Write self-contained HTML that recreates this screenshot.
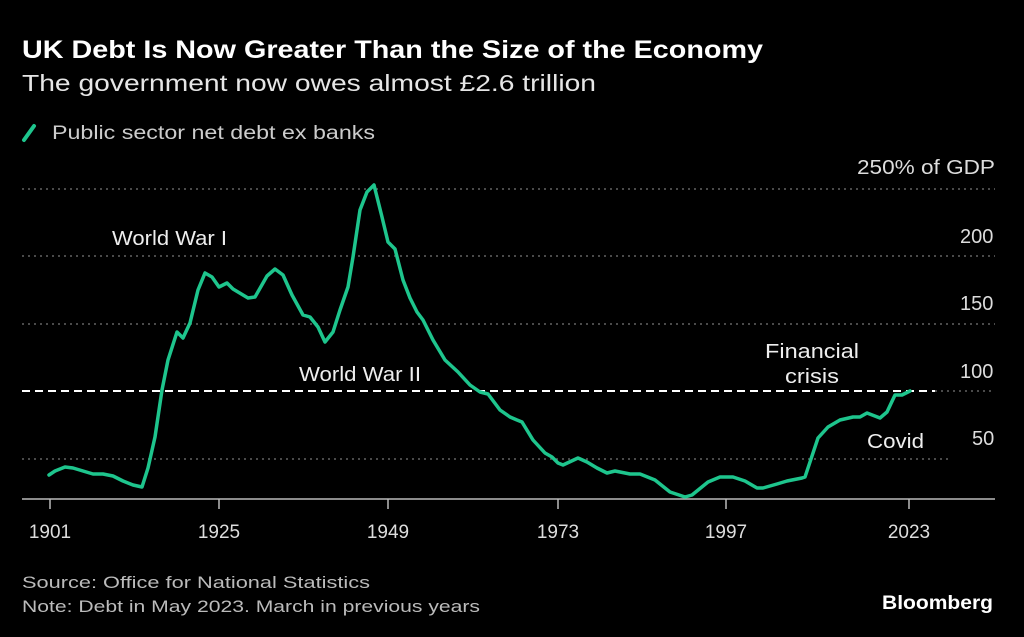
<!DOCTYPE html>
<html><head><meta charset="utf-8"><style>
html,body{margin:0;padding:0;background:#000;}
svg{display:block;font-family:"Liberation Sans",sans-serif;}
</style></head><body>
<svg width="1024" height="637" viewBox="0 0 1024 637" xmlns="http://www.w3.org/2000/svg">
<rect width="1024" height="637" fill="#000"/>
<text x="22" y="58" font-size="25" font-weight="bold" fill="#fff" textLength="741" lengthAdjust="spacingAndGlyphs">UK Debt Is Now Greater Than the Size of the Economy</text>
<text x="22" y="91" font-size="23" fill="#e6e6e6" textLength="574" lengthAdjust="spacingAndGlyphs">The government now owes almost £2.6 trillion</text>
<line x1="24" y1="140" x2="34" y2="126" stroke="#1ec58d" stroke-width="4" stroke-linecap="round"/>
<text x="52" y="139" font-size="19" fill="#ccc" textLength="323" lengthAdjust="spacingAndGlyphs">Public sector net debt ex banks</text>
<g stroke="#777" stroke-width="1.3" stroke-dasharray="2,4">
<line x1="22" y1="189" x2="995" y2="189"/>
<line x1="22" y1="256" x2="995" y2="256"/>
<line x1="22" y1="324" x2="995" y2="324"/>
<line x1="935" y1="391" x2="995" y2="391"/>
<line x1="22" y1="459" x2="950" y2="459"/>
</g>
<line x1="22" y1="391" x2="935" y2="391" stroke="#fff" stroke-width="2" stroke-dasharray="8,5"/>
<line x1="22" y1="499" x2="995" y2="499" stroke="#bbb" stroke-width="1.5"/>
<g stroke="#bbb" stroke-width="1.5">
<line x1="50" y1="499" x2="50" y2="509"/><line x1="219" y1="499" x2="219" y2="509"/>
<line x1="388" y1="499" x2="388" y2="509"/><line x1="558" y1="499" x2="558" y2="509"/>
<line x1="726" y1="499" x2="726" y2="509"/><line x1="909" y1="499" x2="909" y2="509"/>
</g>
<g font-size="19" fill="#ddd" text-anchor="middle">
<text x="50" y="538">1901</text><text x="219" y="538">1925</text><text x="388" y="538">1949</text>
<text x="558" y="538">1973</text><text x="726" y="538">1997</text><text x="909" y="538">2023</text>
</g>
<g font-size="20" fill="#ddd">
<text x="857" y="174" textLength="138" lengthAdjust="spacingAndGlyphs">250% of GDP</text>
<text x="960" y="243">200</text><text x="960" y="310">150</text>
<text x="960" y="378">100</text><text x="972" y="445">50</text>
</g>
<g font-size="20" fill="#eee">
<text x="112" y="245" textLength="115" lengthAdjust="spacingAndGlyphs">World War I</text>
<text x="299" y="381" textLength="122" lengthAdjust="spacingAndGlyphs">World War II</text>
<text x="765" y="358" textLength="94" lengthAdjust="spacingAndGlyphs">Financial</text>
<text x="785" y="383" textLength="54" lengthAdjust="spacingAndGlyphs">crisis</text>
<text x="867" y="448" textLength="57" lengthAdjust="spacingAndGlyphs">Covid</text>
</g>
<polyline fill="none" stroke="#1ec58d" stroke-width="3.5" stroke-linejoin="round" stroke-linecap="round" points="49,475 55,471 65,467 73,468 83,471 93,474 103,474 113,476 123,481 133,485 142,487 148,468 155,437 162,390 168,360 177,332 183,338 190,323 198,290 205,273 212,277 219,287 227,283 233,289 248,298 255,297 267,276 275,269 283,275 292,295 303,315 310,317 318,327 325,342 333,332 340,310 348,287 353,257 360,210 367,192 374,185 382,217 388,242 395,249 403,280 410,298 417,312 423,320 433,340 445,360 458,372 470,385 480,392 488,394 500,410 510,417 517,420 522,422 533,440 545,453 552,457 558,463 563,465 578,458 587,462 597,468 607,473 615,471 630,474 640,474 655,480 670,492 685,497 692,495 708,482 720,477 733,477 745,481 757,488 763,488 777,484 787,481 802,478 805,477 818,438 828,427 840,420 853,417 860,417 867,413 880,418 887,412 895,395 902,395 910,391"/>
<text x="22" y="588" font-size="17" fill="#bbb" textLength="348" lengthAdjust="spacingAndGlyphs">Source: Office for National Statistics</text>
<text x="22" y="612" font-size="17" fill="#bbb" textLength="458" lengthAdjust="spacingAndGlyphs">Note: Debt in May 2023. March in previous years</text>
<text x="882" y="609" font-size="19" font-weight="bold" fill="#fff" textLength="111" lengthAdjust="spacingAndGlyphs">Bloomberg</text>
</svg>
</body></html>
